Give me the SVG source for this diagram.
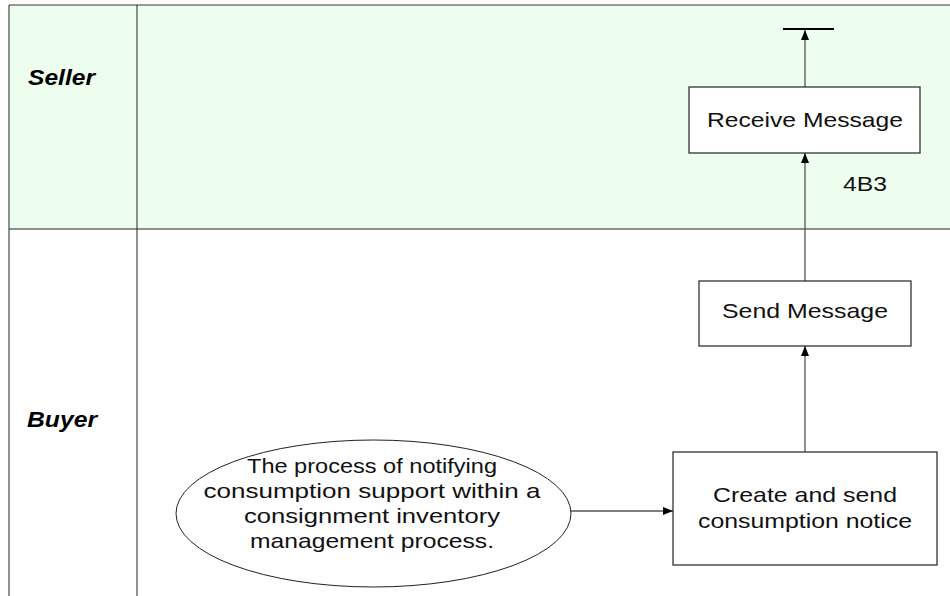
<svg xmlns="http://www.w3.org/2000/svg" width="950" height="596" viewBox="0 0 950 596">
<style>
.lane{stroke:#222;stroke-width:1;fill:none}
.box{fill:#fff;stroke:#222;stroke-width:1.2}
.t{font-family:"Liberation Sans",Arial,sans-serif;font-size:21px;fill:#111;text-anchor:middle}
.lbl{font-family:"Liberation Sans",Arial,sans-serif;font-size:22px;font-weight:bold;font-style:italic;fill:#000}
.c{stroke:#555;stroke-width:1.3;fill:none}
</style>
<defs>
<marker id="ah" viewBox="0 0 10 10" refX="10" refY="5" markerWidth="10" markerHeight="10" markerUnits="userSpaceOnUse" orient="auto">
<path d="M0,1 L10,5 L0,9 z" fill="#000"/>
</marker>
</defs>
<g id="lanes">
<rect x="9" y="5" width="945" height="224" fill="#eefeee" stroke="none"/>
<line x1="9" y1="5" x2="950" y2="5" stroke="#777" stroke-width="1.5"/>
<line x1="9" y1="5" x2="9" y2="596" class="lane"/>
<line x1="137" y1="5" x2="137" y2="596" class="lane"/>
<line x1="9" y1="229" x2="950" y2="229" class="lane"/>
<text class="lbl" x="28" y="85" textLength="67" lengthAdjust="spacingAndGlyphs">Seller</text>
<text class="lbl" x="27" y="427" textLength="70" lengthAdjust="spacingAndGlyphs">Buyer</text>
</g>
<g id="connectors">
<line class="c" x1="805" y1="87" x2="805" y2="30" marker-end="url(#ah)"/>
<line x1="783" y1="29" x2="834" y2="29" stroke="#000" stroke-width="2"/>
<line class="c" x1="805" y1="281" x2="805" y2="153" marker-end="url(#ah)"/>
<line class="c" x1="805" y1="452" x2="805" y2="346" marker-end="url(#ah)"/>
<line class="c" x1="571" y1="511" x2="673" y2="511" marker-end="url(#ah)"/>
<text class="t" x="865" y="191" textLength="44" lengthAdjust="spacingAndGlyphs">4B3</text>
</g>
<g id="receive">
<rect class="box" x="689" y="87" width="231" height="66"/>
<text class="t" x="805" y="127" textLength="196" lengthAdjust="spacingAndGlyphs">Receive Message</text>
</g>
<g id="send">
<rect class="box" x="699" y="281" width="212" height="65"/>
<text class="t" x="805" y="318" textLength="166" lengthAdjust="spacingAndGlyphs">Send Message</text>
</g>
<g id="create">
<rect class="box" x="673" y="452" width="264" height="113"/>
<text class="t" x="805" y="502" textLength="184" lengthAdjust="spacingAndGlyphs">Create and send</text>
<text class="t" x="805" y="528" textLength="214" lengthAdjust="spacingAndGlyphs">consumption notice</text>
</g>
<g id="process">
<ellipse cx="373.5" cy="513.5" rx="197.5" ry="73.5" fill="#fff" stroke="#222" stroke-width="1"/>
<text class="t" x="372" y="473" textLength="250" lengthAdjust="spacingAndGlyphs">The process of notifying</text>
<text class="t" x="372" y="498" textLength="337" lengthAdjust="spacingAndGlyphs">consumption support within a</text>
<text class="t" x="372" y="523" textLength="256" lengthAdjust="spacingAndGlyphs">consignment inventory</text>
<text class="t" x="372" y="548" textLength="244" lengthAdjust="spacingAndGlyphs">management process.</text>
</g>
</svg>
